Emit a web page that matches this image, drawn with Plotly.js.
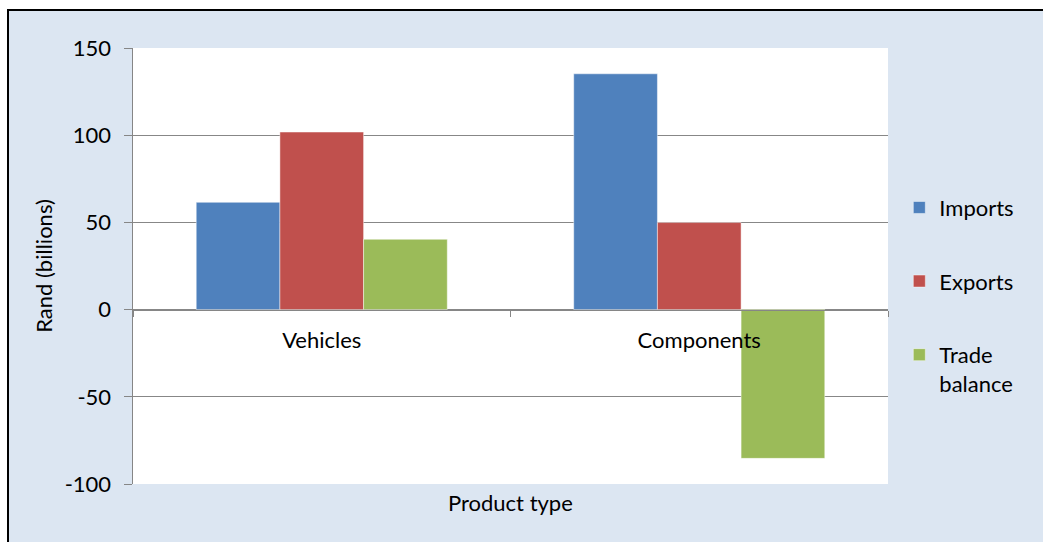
<!DOCTYPE html>
<html>
<head>
<meta charset="utf-8">
<script src="https://cdn.plot.ly/plotly-3.0.1.min.js"></script>
<style>
  html, body { margin: 0; padding: 0; background: #ffffff; width: 1043px; height: 542px; overflow: hidden; }
  #chart { position: absolute; left: 7px; top: 9px; width: 1034px; height: 531px;
           border-left: 2px solid #000; border-top: 2px solid #000; }
</style>
</head>
<body>
<div id="chart"></div>
<script>
const categories = ["Vehicles", "Components"];
const seriesNames = ["Imports", "Exports", "Trade<br>balance"];
const imports = [61.5, 135.2];
const exports_ = [101.8, 49.9];
const tradeBalance = [40.3, -85.3];
const colors = ["#4f81bd", "#c0504d", "#9bbb59"];
const yTicks = [-100, -50, 0, 50, 100, 150];

const values = [imports, exports_, tradeBalance];
const font = "Lato, 'Open Sans', sans-serif";
const fs = 22;

const traces = values.map((v, i) => ({
  type: "bar",
  name: seriesNames[i],
  x: categories,
  y: v,
  legendgroup: "g" + i,
  marker: { color: colors[i], line: { color: "rgba(255,255,255,0.45)", width: 1 } },
  hoverinfo: "x+y+name"
}));

const layout = {
  width: 1034,
  height: 531,
  margin: { l: 124, r: 155, t: 37, b: 58 },
  paper_bgcolor: "#dce6f2",
  plot_bgcolor: "#ffffff",
  barmode: "group",
  bargap: 0.335,
  bargroupgap: 0,
  font: { family: font, size: fs, color: "#000000" },
  xaxis: {
    type: "category",
    anchor: "free",
    position: 0.4,
    showline: true,
    linecolor: "#868686",
    linewidth: 1.5,
    ticks: "outside",
    tickson: "boundaries",
    ticklen: 6,
    tickcolor: "#868686",
    ticklabelstandoff: 10,
    showgrid: false,
    zeroline: false,
    tickfont: { family: font, size: fs, color: "#000" },
    fixedrange: true
  },
  yaxis: {
    range: [-100, 150],
    tickvals: yTicks,
    ticktext: yTicks.map(String),
    showline: true,
    linecolor: "#868686",
    linewidth: 1.5,
    ticks: "outside",
    ticklen: 8,
    tickcolor: "#868686",
    ticklabelstandoff: 8,
    showgrid: true,
    gridcolor: "#878787",
    gridwidth: 1.4,
    zeroline: false,
    tickfont: { family: font, size: fs, color: "#000" },
    title: { text: "Rand (billions)", font: { family: font, size: fs, color: "#000" }, standoff: 6 },
    fixedrange: true
  },
  showlegend: true,
  legend: {
    x: 1.015, xanchor: "left",
    y: 0.682, yanchor: "top",
    valign: "top",
    bgcolor: "rgba(0,0,0,0)",
    font: { family: font, size: fs, color: "#000" },
    tracegroupgap: 42,
    itemwidth: 30
  },
  annotations: [{
    text: "Product type",
    xref: "paper", yref: "paper",
    x: 0.5, y: -0.007,
    xanchor: "center", yanchor: "top",
    showarrow: false,
    font: { family: font, size: fs, color: "#000" }
  }]
};

Plotly.newPlot("chart", traces, layout, { displayModeBar: false, staticPlot: true });
</script>
</body>
</html>
